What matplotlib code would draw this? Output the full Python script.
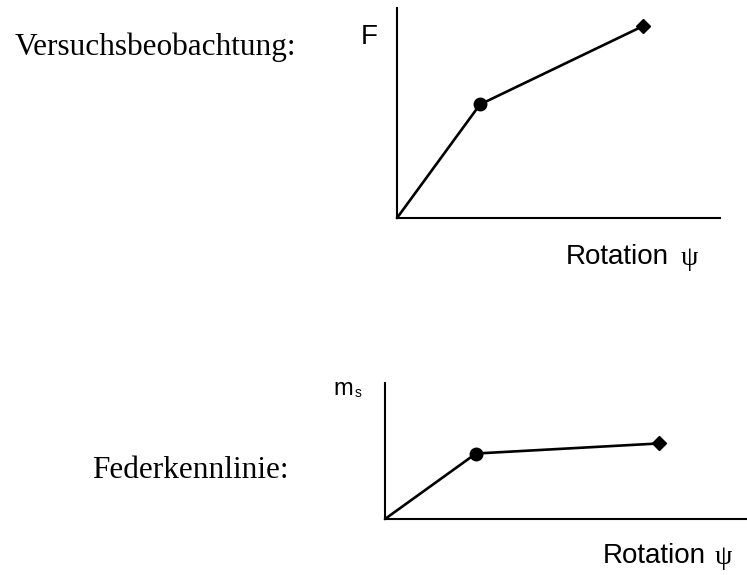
import matplotlib
matplotlib.use("Agg")
import matplotlib.pyplot as plt

# Versuchsbeobachtung: force over rotation
rot_test = [0, 0.83, 2.46]
force_test = [0, 1.13, 1.91]

# Federkennlinie: spring moment over rotation
rot_spring = [0, 0.91, 2.74]
moment_spring = [0, 0.65, 0.75]

W, H = 747, 575


def px_axes(fig, x0, y0, x1, y1):
    # axes from pixel box (origin lower-left corner at x0,y0; top-right x1,y1)
    return fig.add_axes([x0 / W, 1 - y0 / H, (x1 - x0) / W, (y0 - y1) / H])


def style(ax, xmax, ymax):
    ax.set_xlim(0, xmax)
    ax.set_ylim(0, ymax)
    for side in ("top", "right"):
        ax.spines[side].set_visible(False)
    for side in ("left", "bottom"):
        ax.spines[side].set_linewidth(1.5)
        ax.spines[side].set_color("black")
    ax.set_xticks([])
    ax.set_yticks([])
    ax.patch.set_alpha(0)


def curve(ax, x, y):
    ax.plot(x, y, color="black", lw=1.9, clip_on=False, solid_capstyle="round")
    ax.plot(x[1], y[1], "o", color="black", ms=9, clip_on=False)
    ax.plot(x[2], y[2], "D", color="black", ms=7.5, clip_on=False)


fig = plt.figure(figsize=(W / 100, H / 100), dpi=100)

ax1 = px_axes(fig, 397, 218, 720, 8)
style(ax1, 3.23, 2.09)
curve(ax1, rot_test, force_test)

ax2 = px_axes(fig, 385, 519, 747, 383)
style(ax2, 3.62, 1.35)
curve(ax2, rot_spring, moment_spring)

serif = "Liberation Serif"
sans = "Liberation Sans"

fig.text(15 / W, 1 - 55 / H, "Versuchsbeobachtung:", family=serif, fontsize=22.5,
         va="baseline", ha="left")
fig.text(92 / W, 1 - 478 / H, "Federkennlinie:", family=serif, fontsize=22.5,
         va="baseline", ha="left")

fig.text(361 / W, 1 - 44 / H, "F", family=sans, fontsize=20, va="baseline")
fig.text(566 / W, 1 - 264 / H, "Rotation", family=sans, fontsize=20, va="baseline")
fig.text(681 / W, 1 - 265 / H, "ψ", family=serif, fontsize=20, va="baseline")
fig.text(603 / W, 1 - 563 / H, "Rotation", family=sans, fontsize=20, va="baseline")
fig.text(715 / W, 1 - 564 / H, "ψ", family=serif, fontsize=20, va="baseline")

fig.text(333 / W, 1 - 395 / H, "m", family=sans, fontsize=17, va="baseline")
fig.text(355 / W, 1 - 397 / H, "s", family=sans, fontsize=10, va="baseline")

fig.savefig("out.png", dpi=100, facecolor="white")
